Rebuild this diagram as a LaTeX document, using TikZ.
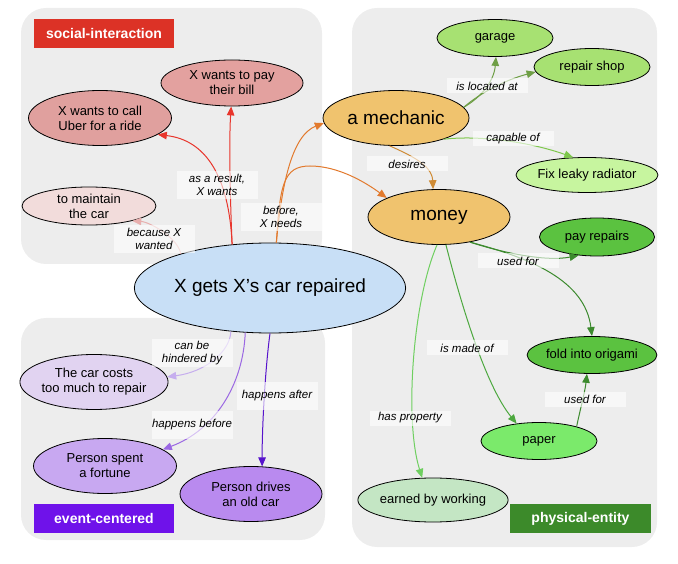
\documentclass[tikz,border=0pt]{standalone}
\usepackage{fontspec}
\setmainfont{Liberation Sans}
\usetikzlibrary{shapes.geometric,arrows.meta}

% group and node colours
\definecolor{panelgray}{HTML}{EDEDED}
\definecolor{socialred}{HTML}{DC3226}
\definecolor{eventpurple}{HTML}{6F12EA}
\definecolor{physgreen}{HTML}{3C8A2A}
\definecolor{fillpay}{HTML}{E3A19F}
\definecolor{filluber}{HTML}{E0A09E}
\definecolor{fillmaint}{HTML}{F2DCDB}
\definecolor{fillmain}{HTML}{C8DFF6}
\definecolor{fillorange}{HTML}{F0C36E}
\definecolor{fillgarage}{HTML}{A7E172}
\definecolor{fillfix}{HTML}{C7F59F}
\definecolor{filldark}{HTML}{5BC240}
\definecolor{fillpaper}{HTML}{7BEA6B}
\definecolor{fillearn}{HTML}{C4E6C4}
\definecolor{fillcost}{HTML}{E1D3F1}
\definecolor{fillspent}{HTML}{C8A8F1}
\definecolor{filldrive}{HTML}{B98AEF}
% connector colours
\definecolor{ered}{HTML}{E8352C}
\definecolor{epink}{HTML}{E8AFAE}
\definecolor{eorange}{HTML}{E27A2E}
\definecolor{etan}{HTML}{CF8B35}
\definecolor{eolive}{HTML}{6E9E45}
\definecolor{elight}{HTML}{7DC74B}
\definecolor{edark}{HTML}{3C8A2E}
\definecolor{emid}{HTML}{4DA83F}
\definecolor{epale}{HTML}{6FCF60}
\definecolor{elav}{HTML}{C6AEEE}
\definecolor{eviolet}{HTML}{9B68E3}
\definecolor{eindigo}{HTML}{5713CC}

\begin{document}
\begin{tikzpicture}[x=1pt,y=-1pt,
  panel/.style={fill=panelgray, rounded corners=25pt},
  grouplabel/.style={text=white, inner sep=0pt, minimum width=140pt, minimum height=29pt,
    font=\fontsize{14}{16}\selectfont\bfseries},
  ent/.style={ellipse, draw=black, line width=0.8pt, inner sep=0pt, align=center,
    font=\fontsize{13}{15}\selectfont},
  bigent/.style={ent, font=\fontsize{19}{22}\selectfont},
  rel/.style={line width=1pt, -{Triangle[length=9pt,width=7.5pt]}},
  rellabel/.style={fill=white, fill opacity=0.6, text opacity=1, inner sep=0pt,
    minimum width=81pt, align=center, font=\fontsize{11.5}{12.8}\selectfont\itshape},
  one/.style={minimum height=15pt},
  two/.style={minimum height=28pt}
]
\useasboundingbox (0,0) rectangle (678,564);

% group panels
\fill[panel] (21,8) rectangle (322,264);
\fill[panel] (352,8) rectangle (657,547);
\fill[panel] (21,318) rectangle (325,540);

\node[grouplabel, fill=socialred] (soclab) at (104,33.5) {social-interaction};
\node[grouplabel, fill=eventpurple] (evlab) at (104,518.5) {event-centered};
\node[grouplabel, fill=physgreen, minimum width=141pt] (phlab) at (580.5,518.5) {physical-entity};

% social-interaction
\node[ent, fill=fillpay, minimum width=142pt, minimum height=46pt] (paybill) at (232,83) {X wants to pay\\their bill};
\node[ent, fill=filluber, minimum width=143pt, minimum height=55pt] (uber) at (100,118) {X wants to call\\Uber for a ride};
\node[ent, fill=fillmaint, minimum width=134pt, minimum height=38pt] (maint) at (89,206) {to maintain\\the car};

% central event
\node[bigent, fill=fillmain, minimum width=246pt, minimum height=90pt] (main) at (270,288) {X gets X’s car repaired};

% physical-entity
\node[bigent, fill=fillorange, minimum width=146pt, minimum height=55pt] (mech) at (396,118) {a mechanic};
\node[bigent, fill=fillorange, minimum width=142pt, minimum height=55pt] (money) at (439,217) {money};
\node[ent, fill=fillgarage, minimum width=116pt, minimum height=37pt] (garage) at (495,38) {garage};
\node[ent, fill=fillgarage, minimum width=116pt, minimum height=37pt] (shop) at (592,67) {repair shop};
\node[ent, fill=fillfix, minimum width=142pt, minimum height=35pt] (fix) at (587,175) {Fix leaky radiator};
\node[ent, fill=filldark, minimum width=115pt, minimum height=38pt] (payrep) at (597,237) {pay repairs};
\node[ent, fill=filldark, minimum width=116pt, minimum height=37pt] (origami) at (592,355) {fold into origami};
\node[ent, fill=fillpaper, minimum width=116pt, minimum height=37pt] (paper) at (539,441) {paper};
\node[ent, fill=fillearn, minimum width=142pt, minimum height=44pt] (earn) at (433,500) {earned by working};

% event-centered
\node[ent, fill=fillcost, minimum width=143pt, minimum height=55pt] (cost) at (94,382) {The car costs\\too much to repair};
\node[ent, fill=fillspent, minimum width=143pt, minimum height=55pt] (spent) at (105,466) {Person spent\\a fortune};
\node[ent, fill=filldrive, minimum width=142pt, minimum height=55pt] (drive) at (251,494) {Person drives\\an old car};

% relations
\draw[rel, ered] (main.131) .. controls (230,195) and (229,140) .. (paybill.268);
\draw[rel, ered] (main.131) .. controls (229,175) and (205,140) .. (uber.-16);
\draw[rel, epink] (main.159) .. controls (178,238) and (150,222) .. (maint.-19);
\draw[rel, eorange] (main.82) .. controls (282,180) and (293,135) .. (mech.184);
\draw[rel, eorange] (main.82) .. controls (280,185) and (283,166) .. (310,166)
  .. controls (338,166) and (365,182) .. (money.160);
\draw[rel, etan] (mech.257) .. controls (410,155) and (432,165) .. (money.102);
\draw[rel, eolive] (mech.9) .. controls (480,98) and (494,82) .. (garage.273);
\draw[rel, eolive] (mech.9) .. controls (480,93) and (505,80) .. (shop.185);
\draw[rel, elight] (mech.-24) .. controls (480,135) and (530,142) .. (fix.128);
\draw[rel, edark] (money.-39) .. controls (500,252) and (545,262) .. (payrep.225);
\draw[rel, edark] (money.-39) .. controls (530,258) and (585,280) .. (origami.90);
\draw[rel, emid] (money.-76) .. controls (460,300) and (485,385) .. (paper.142);
\draw[rel, epale] (money.266) .. controls (413,300) and (404,420) .. (earn.116);
\draw[rel, edark] (paper.21) .. controls (580,410) and (585,392) .. (origami.255);
\draw[rel, elav] (main.228) .. controls (230,352) and (205,372) .. (cost.4);
\draw[rel, eviolet] (main.241) .. controls (243,385) and (215,430) .. (spent.16);
\draw[rel, eindigo] (main.270) .. controls (265,370) and (262,430) .. (drive.68);

% relation labels
\node[rellabel, two] (lresult) at (217,185) {as a result,\\X wants};
\node[rellabel, two] (lbecause) at (154,239) {because X\\wanted};
\node[rellabel, two] (lbefore) at (281,217) {before,\\X needs};
\node[rellabel, one] (llocated) at (487,86) {is located at};
\node[rellabel, one] (lcapable) at (513,139) {capable of};
\node[rellabel, one] (ldesires) at (407,164) {desires};
\node[rellabel, one] (lused) at (518,261) {used for};
\node[rellabel, one] (lmade) at (467,348) {is made of};
\node[rellabel, one] (lprop) at (410,418) {has property};
\node[rellabel, one] (lusedp) at (585,399) {used for};
\node[rellabel, two] (lhinder) at (192,353) {can be\\hindered by};
\node[rellabel, two] (lbeforeh) at (192,425) {happens before};
\node[rellabel, two] (lafter) at (277,396) {happens after};
\end{tikzpicture}
\end{document}
